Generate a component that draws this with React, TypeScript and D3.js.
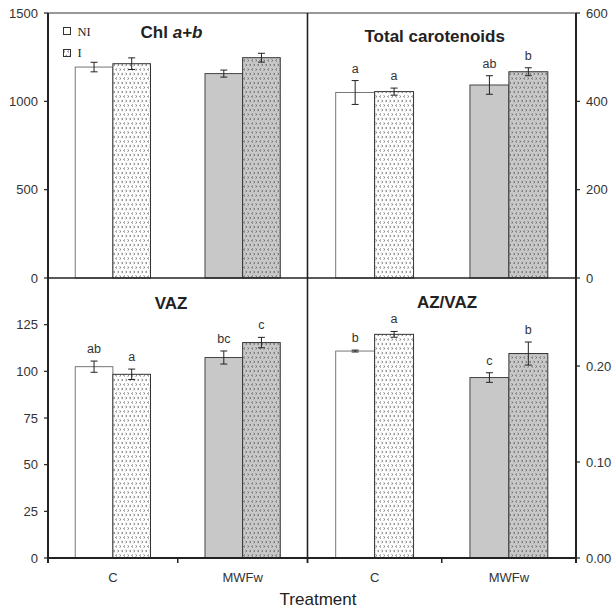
import React from "react";
import * as d3 from "d3";

const categories = ["C", "MWFw"];
const seriesNames = ["NI", "I"];

const chlNI = [1194, 1157];
const chlI = [1213, 1247];
const chlNIErr = [27, 20];
const chlIErr = [33, 25];

const carNI = [420, 437];
const carI = [422, 467];
const carNIErr = [27, 21];
const carIErr = [8, 9];
const carNILetters = ["a", "ab"];
const carILetters = ["a", "b"];

const vazNI = [102.5, 107.4];
const vazI = [98.4, 115.4];
const vazNIErr = [3, 3.5];
const vazIErr = [2.8, 2.8];
const vazNILetters = ["ab", "bc"];
const vazILetters = ["a", "c"];

const azNI = [0.2156, 0.188];
const azI = [0.233, 0.213];
const azNIErr = [0.001, 0.005];
const azIErr = [0.003, 0.012];
const azNILetters = ["b", "c"];
const azILetters = ["a", "b"];

const chlTicks = [0, 500, 1000, 1500];
const carTicks = [0, 200, 400, 600];
const vazTicks = [0, 25, 50, 75, 100, 125];
const azTicks = [0, 0.1, 0.2];

const FONT = "'Liberation Sans', Arial, Helvetica, sans-serif";
const AX = "#222";

const L = 48, M = 307.5, R = 576, T = 13, MID = 278, B = 558;

type Panel = {
  key: string;
  x0: number; x1: number; y0: number; y1: number;
  max: number; ticks: number[]; fmt: (v: number) => string; side: "left" | "right";
  ni: number[]; i: number[]; niErr: number[]; iErr: number[];
  niL?: string[]; iL?: string[];
  title: React.ReactNode; tx: number; ty: number;
};

const panels: Panel[] = [
  { key: "chl", x0: L, x1: M, y0: T, y1: MID, max: 1500, ticks: chlTicks, fmt: d3.format("d"), side: "left",
    ni: chlNI, i: chlI, niErr: chlNIErr, iErr: chlIErr,
    title: (<><tspan>Chl </tspan><tspan fontStyle="italic">a+b</tspan></>), tx: 171.5, ty: 38 },
  { key: "car", x0: M, x1: R, y0: T, y1: MID, max: 600, ticks: carTicks, fmt: d3.format("d"), side: "right",
    ni: carNI, i: carI, niErr: carNIErr, iErr: carIErr, niL: carNILetters, iL: carILetters,
    title: "Total carotenoids", tx: 434.7, ty: 41.5 },
  { key: "vaz", x0: L, x1: M, y0: MID, y1: B, max: 150, ticks: vazTicks, fmt: d3.format("d"), side: "left",
    ni: vazNI, i: vazI, niErr: vazNIErr, iErr: vazIErr, niL: vazNILetters, iL: vazILetters,
    title: "VAZ", tx: 171, ty: 309 },
  { key: "az", x0: M, x1: R, y0: MID, y1: B, max: 0.2917, ticks: azTicks, fmt: d3.format(".2f"), side: "right",
    ni: azNI, i: azI, niErr: azNIErr, iErr: azIErr, niL: azNILetters, iL: azILetters,
    title: "AZ/VAZ", tx: 447, ty: 308 },
];

function PanelView({ p }: { p: Panel }) {
  const x = d3.scaleBand<string>().domain(categories).range([p.x0, p.x1]).padding(0);
  const bw = x.bandwidth();
  const inner = d3.scaleBand<string>().domain(seriesNames).range([bw * 0.21, bw * 0.79]).padding(0);
  const y = d3.scaleLinear().domain([0, p.max]).range([p.y1, p.y0]);
  const items: any[] = [];
  categories.forEach((c, ci) => {
    seriesNames.forEach((s) => {
      const isNI = s === "NI";
      const v = isNI ? p.ni[ci] : p.i[ci];
      const e = isNI ? p.niErr[ci] : p.iErr[ci];
      const letter = isNI ? p.niL?.[ci] : p.iL?.[ci];
      const bx = (x(c) as number) + (inner(s) as number);
      const w = inner.bandwidth();
      const cx = bx + w / 2;
      let fill: string;
      if (isNI) fill = ci === 0 ? "#ffffff" : "#c8c8c8";
      else fill = ci === 0 ? "url(#patW)" : "url(#patG)";
      const stroke = isNI ? (ci === 0 ? "#777" : "#444") : "#333";
      items.push(
        <g key={c + s}>
          <rect x={bx} y={y(v)} width={w} height={y(0) - y(v)} fill={fill} stroke={stroke} strokeWidth={1} />
          <line x1={cx} x2={cx} y1={y(v + e)} y2={y(v - e)} stroke={AX} strokeWidth={1} />
          <line x1={cx - 3.5} x2={cx + 3.5} y1={y(v + e)} y2={y(v + e)} stroke={AX} strokeWidth={1} />
          <line x1={cx - 3.5} x2={cx + 3.5} y1={y(v - e)} y2={y(v - e)} stroke={AX} strokeWidth={1} />
          {letter && (
            <text x={cx} y={y(v + e) - 8} textAnchor="middle" fontFamily={FONT} fontSize={12.5} fill="#333">{letter}</text>
          )}
        </g>
      );
    });
  });
  const axX = p.side === "left" ? p.x0 : p.x1;
  const dir = p.side === "left" ? -1 : 1;
  return (
    <g>
      {items}
      {p.ticks.map((t) => (
        <g key={t}>
          <line x1={axX} x2={axX + dir * 4} y1={y(t)} y2={y(t)} stroke={AX} strokeWidth={1.2} />
          <text x={axX + dir * 10} y={y(t)} dy="0.35em" textAnchor={p.side === "left" ? "end" : "start"}
            fontFamily={FONT} fontSize={13} fill="#333">{p.fmt(t)}</text>
        </g>
      ))}
      <text x={p.tx} y={p.ty} textAnchor="middle" fontFamily={FONT} fontSize={17} fontWeight="bold" fill="#222">{p.title}</text>
      {p.y1 === B && categories.map((c) => (
        <g key={"xt" + c}>
          <text x={(x(c) as number) + bw / 2} y={582} textAnchor="middle" fontFamily={FONT} fontSize={13} fill="#333">{c}</text>
        </g>
      ))}
      {p.y1 === B && [p.x0, p.x0 + bw, p.x1].map((tx, k) => (
        <line key={"xtick" + k} x1={tx} x2={tx} y1={B} y2={B + 5} stroke={AX} strokeWidth={1.5} />
      ))}
    </g>
  );
}

export default function App() {
  return (
    <svg width={614} height={611} style={{ position: "absolute", left: 0, top: 0, display: "block", background: "#fff" }}>
      <defs>
        <pattern id="patW" patternUnits="userSpaceOnUse" width={8} height={9}>
          <rect width={8} height={9} fill="#fff" />
          <path d="M3,1 L1.5,2 L3,3 M5.5,1 L7,2 L5.5,3 M5,5.5 L3.5,6.5 L5,7.5 M7.5,5.5 L9,6.5 L7.5,7.5 M-0.5,5.5 L1,6.5 L-0.5,7.5"
            fill="none" stroke="#7a7a7a" strokeWidth={0.9} />
        </pattern>
        <pattern id="patG" patternUnits="userSpaceOnUse" width={8} height={9}>
          <rect width={8} height={9} fill="#c9c9c9" />
          <path d="M3,1 L1.5,2 L3,3 M5.5,1 L7,2 L5.5,3 M5,5.5 L3.5,6.5 L5,7.5 M7.5,5.5 L9,6.5 L7.5,7.5 M-0.5,5.5 L1,6.5 L-0.5,7.5"
            fill="none" stroke="#6a6a6a" strokeWidth={0.9} />
        </pattern>
      </defs>
      {panels.map((p) => <PanelView key={p.key} p={p} />)}
      {/* frame */}
      <line x1={L} x2={R} y1={T} y2={T} stroke="#333" strokeWidth={1} />
      <line x1={L} x2={R} y1={MID} y2={MID} stroke={AX} strokeWidth={1.6} />
      <line x1={L} x2={R} y1={B} y2={B} stroke={AX} strokeWidth={2} />
      <line x1={M} x2={M} y1={T} y2={B} stroke={AX} strokeWidth={1.6} />
      <line x1={L} x2={L} y1={T} y2={B + 5} stroke={AX} strokeWidth={2} />
      <line x1={R} x2={R} y1={T} y2={B + 5} stroke={AX} strokeWidth={2} />
      {/* legend */}
      <rect x={63.5} y={27.5} width={7} height={7} fill="#fff" stroke="#333" strokeWidth={1} />
      <text x={77.5} y={35.5} fontFamily="'Liberation Serif', 'Times New Roman', serif" fontSize={12.5} fill="#222">NI</text>
      <rect x={63.5} y={49.5} width={7} height={7} fill="url(#patW)" stroke="#333" strokeWidth={1} />
      <text x={77.5} y={57} fontFamily="'Liberation Serif', 'Times New Roman', serif" fontSize={12.5} fill="#222">I</text>
      <text x={318} y={605} textAnchor="middle" fontFamily={FONT} fontSize={17} fill="#222">Treatment</text>
    </svg>
  );
}
